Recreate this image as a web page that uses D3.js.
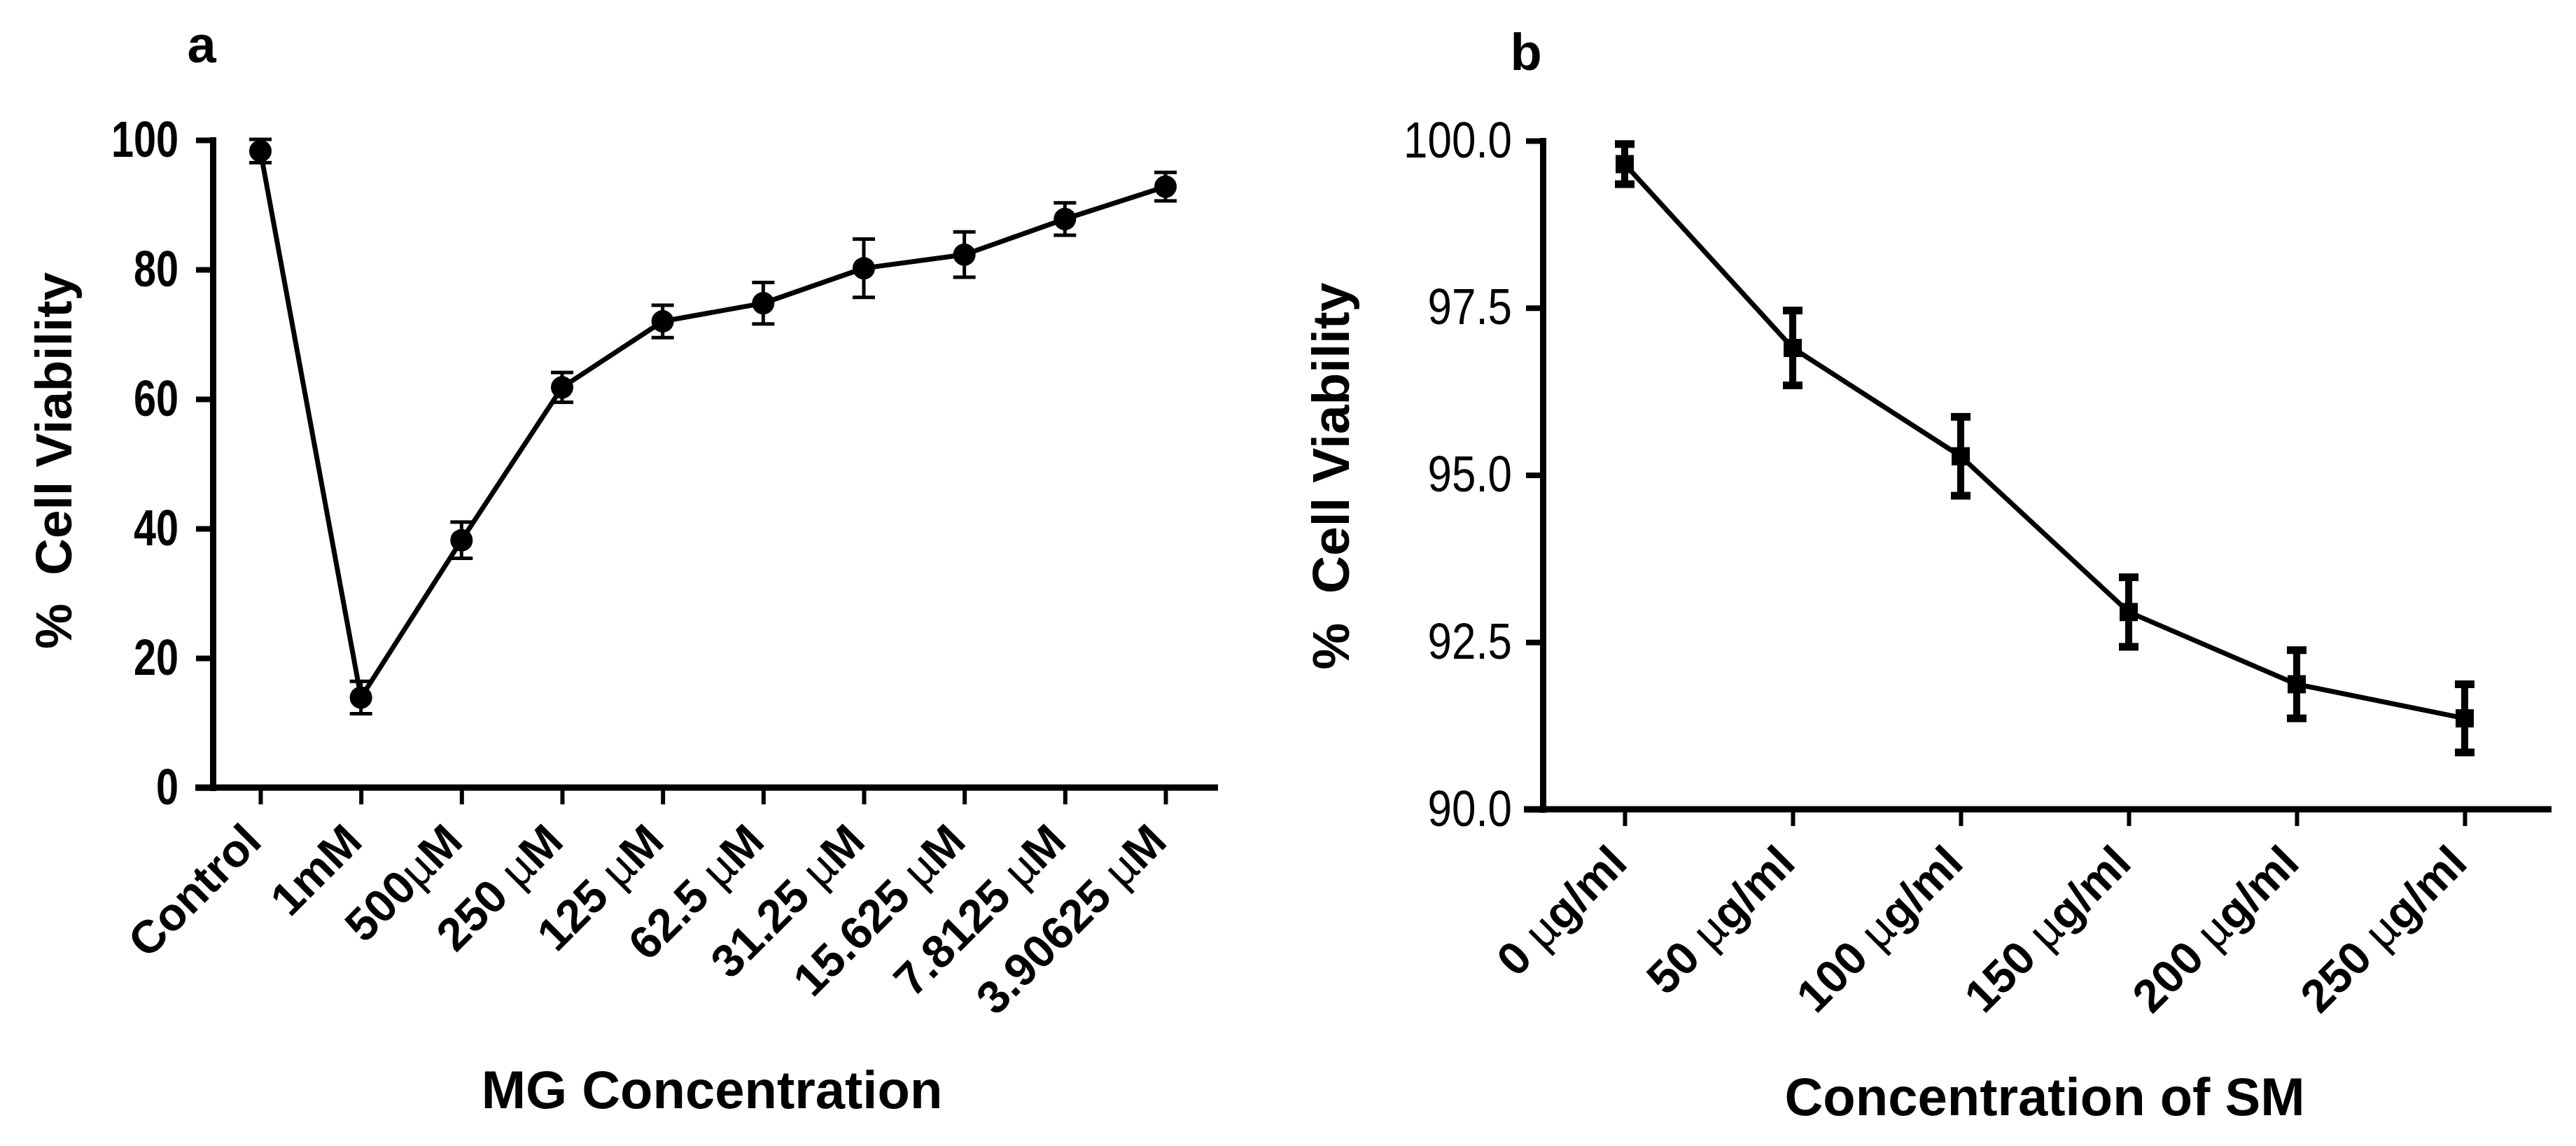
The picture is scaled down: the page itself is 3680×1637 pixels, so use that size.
<!DOCTYPE html>
<html lang="en">
<head>
<meta charset="utf-8">
<script src="https://cdn.jsdelivr.net/npm/d3@7"></script>
<style>
  body { margin: 0; background: #fff; }
  svg text { fill: #000; }
</style>
</head>
<body>
<div id="chart"></div>
<script>
// panel a : MG
var mgLabels = ["Control", "1mM", "500µM", "250 µM", "125 µM", "62.5 µM", "31.25 µM", "15.625 µM", "7.8125 µM", "3.90625 µM"];
var mgMean = [98.3, 13.9, 38.2, 61.8, 72.0, 74.8, 80.2, 82.3, 87.8, 92.8];
var mgErr = [1.8, 2.5, 2.8, 2.3, 2.5, 3.2, 4.5, 3.5, 2.5, 2.2];
var mgTicks = [0, 20, 40, 60, 80, 100];

// panel b : SM
var smLabels = ["0 µg/ml", "50 µg/ml", "100 µg/ml", "150 µg/ml", "200 µg/ml", "250 µg/ml"];
var smMean = [99.65, 96.9, 95.28, 92.95, 91.87, 91.36];
var smErr = [0.3, 0.56, 0.59, 0.52, 0.51, 0.51];
var smTicks = [90, 92.5, 95, 97.5, 100];

var W = 3680, H = 1637;
var sans = '"Liberation Sans", Arial, sans-serif';

var svg = d3.select("#chart")
  .append("svg")
    .attr("width", W)
    .attr("height", H);

svg.append("rect").attr("width", W).attr("height", H).attr("fill", "#fff");

// bold label with a thin mu
function muLabel(t, s) {
  var parts = s.split("µ");
  t.text(null);
  t.append("tspan").text(parts[0]);
  if (parts.length > 1) {
    t.append("tspan").attr("font-weight", "normal").text("µ");
    t.append("tspan").text(parts[1]);
  }
}

function panel(p) {
  var x = d3.scalePoint().domain(p.labels).range(p.xr);
  var y = d3.scaleLinear().domain(p.yd).range(p.yr);
  var step = x.step();
  var g = svg.append("g");

  // x axis
  var gx = g.append("g")
      .attr("transform", "translate(0," + p.yr[0] + ")")
      .call(d3.axisBottom(x).tickSize(24).tickSizeOuter(0));
  gx.select(".domain").remove();
  gx.append("line")
      .attr("x1", p.xr[0] - p.extL * step)
      .attr("x2", p.xr[1] + p.extR * step)
      .attr("stroke", "#000").attr("stroke-width", 9);
  gx.selectAll(".tick line").attr("stroke", "#000").attr("stroke-width", 6);
  gx.selectAll(".tick text")
      .each(function(d) { muLabel(d3.select(this), d); })
      .attr("x", 0).attr("y", 0).attr("dy", "0.35em")
      .attr("text-anchor", "end")
      .attr("transform", "translate(" + p.lab[0] + "," + p.lab[1] + ") rotate(-45)")
      .style("font-family", sans)
      .style("font-weight", "bold")
      .style("font-size", "66px");

  // y axis (numbers are a narrow face in the original, so squeeze them)
  var gy = g.append("g")
      .attr("transform", "translate(" + p.xAxis + ",0)")
      .call(d3.axisLeft(y).tickValues(p.ticks).tickSize(24).tickSizeOuter(0)
              .tickFormat(d3.format(p.fmt)));
  gy.select(".domain").attr("stroke", "#000").attr("stroke-width", 9).attr("stroke-linecap", "square");
  gy.selectAll(".tick line").attr("stroke", "#000").attr("stroke-width", 8);
  gy.selectAll(".tick text")
      .attr("x", -(24 + p.pad) / p.squeeze)
      .attr("transform", "scale(" + p.squeeze + ",1)")
      .style("font-family", sans)
      .style("font-weight", p.numWeight)
      .style("font-size", "72px");

  // series
  var line = d3.line()
      .x(function(d, i) { return x(p.labels[i]); })
      .y(function(d) { return y(d); });
  g.append("path")
      .datum(p.mean)
      .attr("fill", "none")
      .attr("stroke", "#000")
      .attr("stroke-width", p.lw)
      .attr("stroke-linejoin", "round")
      .attr("d", line);

  var bars = g.selectAll(".eb").data(p.mean).enter().append("g")
      .attr("transform", function(d, i) { return "translate(" + x(p.labels[i]) + ",0)"; });
  bars.append("line")
      .attr("y1", function(d, i) { return y(d - p.err[i]); })
      .attr("y2", function(d, i) { return y(d + p.err[i]); })
      .attr("stroke", "#000").attr("stroke-width", p.ew);
  bars.append("line")
      .attr("x1", -p.cap / 2).attr("x2", p.cap / 2)
      .attr("y1", function(d, i) { return y(d - p.err[i]); })
      .attr("y2", function(d, i) { return y(d - p.err[i]); })
      .attr("stroke", "#000").attr("stroke-width", p.cw);
  bars.append("line")
      .attr("x1", -p.cap / 2).attr("x2", p.cap / 2)
      .attr("y1", function(d, i) { return y(d + p.err[i]); })
      .attr("y2", function(d, i) { return y(d + p.err[i]); })
      .attr("stroke", "#000").attr("stroke-width", p.cw);

  if (p.marker == "circle") {
    bars.append("circle")
        .attr("cy", function(d) { return y(d); })
        .attr("r", 16)
        .attr("fill", "#000");
  } else {
    bars.append("rect")
        .attr("x", -13).attr("width", 26)
        .attr("y", function(d) { return y(d) - 13; }).attr("height", 26)
        .attr("fill", "#000");
  }

  // titles
  g.append("text")
      .attr("x", p.letter[0]).attr("y", p.letter[1])
      .attr("text-anchor", "middle")
      .style("font-family", sans).style("font-weight", "bold").style("font-size", "74px")
      .text(p.name);
  g.append("text")
      .attr("x", p.xt[0]).attr("y", p.xt[1])
      .attr("text-anchor", "middle")
      .style("font-family", sans).style("font-weight", "bold").style("font-size", "76px")
      .text(p.xTitle);
  g.append("text")
      .attr("transform", "translate(" + p.yt[0] + "," + p.yt[1] + ") rotate(-90)")
      .attr("text-anchor", "middle")
      .style("font-family", sans).style("font-weight", "bold").style("font-size", p.ytSize + "px")
      .style("white-space", "pre")
      .text("%  Cell Viability");
}

panel({
  name: "a", labels: mgLabels, mean: mgMean, err: mgErr, ticks: mgTicks,
  xr: [372, 1665], extL: 0.647, extR: 0.522, yd: [0, 100], yr: [1125, 200],
  xAxis: 304, pad: 25, fmt: "d", lab: [-12, 64], squeeze: 0.8, numWeight: "bold",
  lw: 7, ew: 5, cw: 5, cap: 32, marker: "circle",
  letter: [288, 89], xt: [1017, 1583], yt: [102, 658], ytSize: 73,
  xTitle: "MG Concentration"
});

panel({
  name: "b", labels: smLabels, mean: smMean, err: smErr, ticks: smTicks,
  xr: [2321, 3521], extL: 0.6, extR: 0.517, yd: [90, 100], yr: [1156, 201],
  xAxis: 2204, pad: 20, fmt: ".1f", lab: [-10, 64], squeeze: 0.86, numWeight: "normal",
  lw: 7, ew: 10, cw: 11, cap: 28, marker: "square",
  letter: [2180, 100], xt: [2921, 1593], yt: [1927, 680], ytSize: 75,
  xTitle: "Concentration of SM"
});
</script>
</body>
</html>
